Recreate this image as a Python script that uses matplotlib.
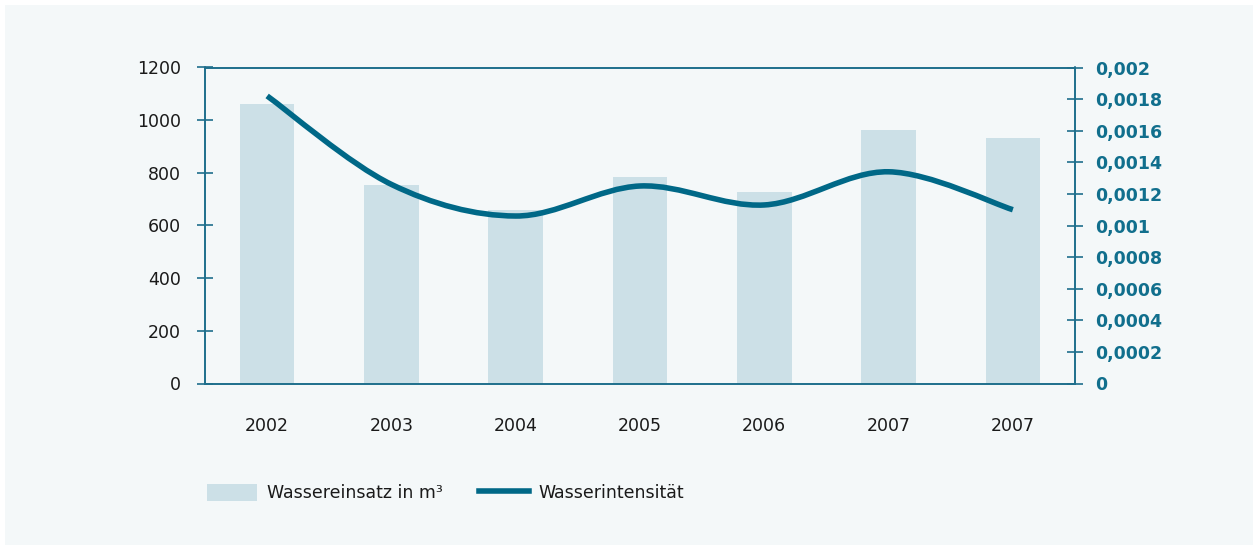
import matplotlib
matplotlib.use("Agg")
import matplotlib.pyplot as plt
from matplotlib.path import Path
from matplotlib.patches import PathPatch, Rectangle
from matplotlib.lines import Line2D
from matplotlib.ticker import FixedLocator, FuncFormatter

years = ["2002", "2003", "2004", "2005", "2006", "2007", "2007"]
wassereinsatz = [1060, 752, 657, 786, 729, 961, 934]
wasserintensitaet = [0.00182, 0.00126, 0.00106, 0.00125, 0.00113, 0.00134, 0.00110]
left_ticks = [0, 200, 400, 600, 800, 1000, 1200]
right_ticks = [0, 0.0002, 0.0004, 0.0006, 0.0008, 0.001, 0.0012, 0.0014, 0.0016, 0.0018, 0.002]

BAR = "#cce0e7"
LINE = "#006887"
SPINE = "#1f6f8c"
RTXT = "#116f8d"
BG = "#f4f8f9"
FS = 12.5

plt.rcParams['font.family'] = ['DejaVu Sans']

W, H = 1258, 545
fig = plt.figure(figsize=(W / 100, H / 100), dpi=100, facecolor="white")
fig.patches.append(Rectangle((5 / W, 0), (W - 10) / W, (H - 5) / H,
                             transform=fig.transFigure, facecolor=BG,
                             edgecolor="none", zorder=-10))

ax = fig.add_axes([205 / W, (H - 383.5) / H, 870 / W, 316 / H])
ax.set_facecolor("none")
x = list(range(len(years)))
ax.bar(x, wassereinsatz, width=0.44, color=BAR, zorder=1)
ax.set_xlim(-0.5, len(years) - 0.5)
ax.set_ylim(0, 1200)
ax.yaxis.set_major_locator(FixedLocator(left_ticks))
ax.set_xticks(x)
ax.set_xticklabels(years)
ax.tick_params(axis="x", length=0, pad=24, labelsize=FS, labelcolor="#1a1a1a")
ax.tick_params(axis="y", direction="inout", length=11, width=1.2, color=SPINE,
               pad=12, labelsize=FS, labelcolor="#1a1a1a")
for s in ax.spines.values():
    s.set_color(SPINE)
    s.set_linewidth(1.2)

ax2 = ax.twinx()
ax2.set_ylim(0, 0.002)
ax2.yaxis.set_major_locator(FixedLocator(right_ticks))
ax2.yaxis.set_major_formatter(FuncFormatter(
    lambda v, p: "0" if v == 0 else ("%.4f" % v).rstrip("0").replace(".", ",")))
ax2.tick_params(axis="y", direction="inout", length=11, width=1.2, color=SPINE,
                pad=9, labelsize=FS, labelcolor=RTXT)
for lab in ax2.get_yticklabels():
    lab.set_fontweight("bold")
for s in ax2.spines.values():
    s.set_color(SPINE)
    s.set_linewidth(1.2)

# smooth (Catmull-Rom -> cubic Bezier) line through the data points
pts = list(zip(x, wasserintensitaet))
verts = [pts[0]]
codes = [Path.MOVETO]
n = len(pts)
for i in range(n - 1):
    p0 = pts[i - 1] if i > 0 else pts[i]
    p1 = pts[i]
    p2 = pts[i + 1]
    p3 = pts[i + 2] if i + 2 < n else pts[i + 1]
    c1 = (p1[0] + (p2[0] - p0[0]) / 6, p1[1] + (p2[1] - p0[1]) / 6)
    c2 = (p2[0] - (p3[0] - p1[0]) / 6, p2[1] - (p3[1] - p1[1]) / 6)
    verts += [c1, c2, p2]
    codes += [Path.CURVE4] * 3
ax2.add_patch(PathPatch(Path(verts, codes), facecolor="none", edgecolor=LINE,
                        linewidth=4, capstyle="butt", zorder=3))

handles = [Rectangle((0, 0), 1, 1, facecolor=BAR, edgecolor="none"),
           Line2D([], [], color=LINE, linewidth=4)]
fig.legend(handles, ["Wassereinsatz in m³", "Wasserintensität"],
           loc="center left", bbox_to_anchor=(191 / W, (H - 493) / H),
           ncol=2, frameon=False, fontsize=FS, handlelength=2.9,
           handleheight=1.1, handletextpad=0.55, columnspacing=2.1,
           labelcolor="#1a1a1a")

fig.savefig("out.png", dpi=100, facecolor="white")
